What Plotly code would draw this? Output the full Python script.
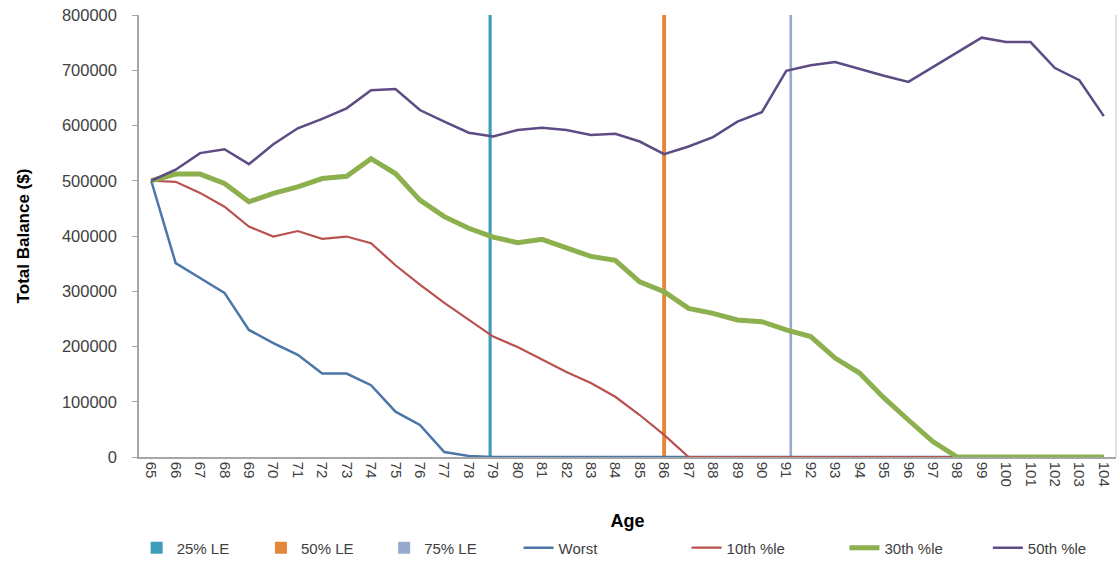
import plotly.graph_objects as go

ages = [str(a) for a in range(65, 105)]

worst = [500000, 351000, 324000, 297000, 230000, 206000, 185000, 151000, 151000, 130000,
         82000, 58000, 9000, 2000, 0, 0, 0, 0, 0, 0,
         0, 0, 0, 0, 0, 0, 0, 0, 0, 0,
         0, 0, 0, 0, 0, 0, 0, 0, 0, 0]
p10 = [500000, 498000, 478000, 453000, 417000, 399000, 409000, 395000, 399000, 387000,
       347000, 312000, 279000, 249000, 218000, 199000, 176000, 154000, 134000, 109000,
       76000, 40000, 0, 0, 0, 0, 0, 0, 0, 0,
       0, 0, 0, 0, 0, 0, 0, 0, 0, 0]
p30 = [500000, 512000, 512000, 495000, 462000, 477000, 489000, 504000, 508000, 540000,
       513000, 465000, 435000, 414000, 398000, 388000, 394000, 378000, 363000, 356000,
       317000, 299000, 269000, 260000, 248000, 245000, 230000, 218000, 179000, 152000,
       107000, 67000, 28000, 0, 0, 0, 0, 0, 0, 0]
p50 = [500000, 520000, 550000, 557000, 530000, 566000, 595000, 612000, 631000, 664000,
       666000, 628000, 607000, 587000, 580000, 592000, 596000, 592000, 583000, 585000,
       571000, 548000, 562000, 579000, 607000, 624000, 699000, 709000, 715000, 702000,
       690000, 679000, 706000, 732000, 759000, 751000, 751000, 704000, 682000, 617000]

le_names = ["25% LE", "50% LE", "75% LE"]
le_ages = ["79", "86", "91"]
le_height = 800000
le_colors = ["#3E9DB8", "#E4873A", "#97AACD"]
# bar styling (width and offset in category units, like Excel's clustered bars)
le_widths = [0.13, 0.16, 0.11]
le_offsets = [-0.19, -0.08, 0.13]

line_names = ["Worst", "10th %le", "30th %le", "50th %le"]
line_data = [worst, p10, p30, p50]
line_colors = ["#4A76A8", "#B9514F", "#8DB04E", "#5D4C84"]
line_widths = [2.5, 2.2, 5, 2.5]

# legend entry placement (fraction of the figure width), one small legend per entry
legend_lefts = [0.122, 0.233, 0.343, 0.463, 0.613, 0.754, 0.882]
legend_ids = ["legend"] + [f"legend{i}" for i in range(2, 8)]

fig = go.Figure()
k = 0
for name, age, col, w, off in zip(le_names, le_ages, le_colors, le_widths, le_offsets):
    fig.add_trace(go.Bar(x=[age], y=[le_height], name=name, marker_color=col,
                         marker_line_width=0, width=[w], offset=[off],
                         legend=legend_ids[k], showlegend=True))
    k += 1
for name, data, col, w in zip(line_names, line_data, line_colors, line_widths):
    fig.add_trace(go.Scatter(x=ages, y=data, name=name, mode="lines",
                             line=dict(color=col, width=w), legend=legend_ids[k],
                             showlegend=True))
    k += 1

font_family = "Liberation Sans, Arial, sans-serif"
legend_layouts = {}
for lid, lx in zip(legend_ids, legend_lefts):
    legend_layouts[lid] = dict(orientation="h", xref="container", yref="container",
                               x=lx, xanchor="left", y=0.025, yanchor="middle",
                               bgcolor="rgba(0,0,0,0)",
                               font=dict(size=15, color="#404040"))

fig.update_layout(
    width=1120, height=562,
    showlegend=True,
    margin=dict(l=139, r=4, t=15, b=105, autoexpand=False),
    paper_bgcolor="white", plot_bgcolor="white",
    barmode="overlay",
    font=dict(family=font_family, size=15, color="#404040"),
    xaxis=dict(type="category", categoryorder="array", categoryarray=ages,
               range=[-0.5, len(ages) - 0.5], automargin=False,
               tickangle=90, showline=True, linecolor="#A6A6A6", linewidth=1.5,
               ticks="", showgrid=False, zeroline=False,
               tickfont=dict(size=15, color="#404040"),
               title=dict(text="<b>Age</b>", font=dict(size=18, color="#000000"), standoff=33)),
    yaxis=dict(range=[0, 800000], dtick=100000, tickformat="d", automargin=False,
               showline=True, linecolor="#A6A6A6", linewidth=1.5,
               ticks="outside", ticklen=5, tickcolor="#A6A6A6",
               ticklabelstandoff=12,
               showgrid=False, zeroline=False,
               tickfont=dict(size=16.5, color="#404040"),
               title=dict(text="<b>Total Balance ($)</b>", font=dict(size=17, color="#000000"), standoff=28)),
    shapes=[dict(type="line", xref="paper", yref="paper", x0=1, x1=1, y0=0, y1=1,
                 line=dict(color="#D9D9D9", width=1.5))],
    **legend_layouts,
)

# remove the browser's default 8px body margin so the figure fills the window exactly
fig.write_html("out.html", config={"displayModeBar": False},
               post_script="document.body.style.margin='0';")
